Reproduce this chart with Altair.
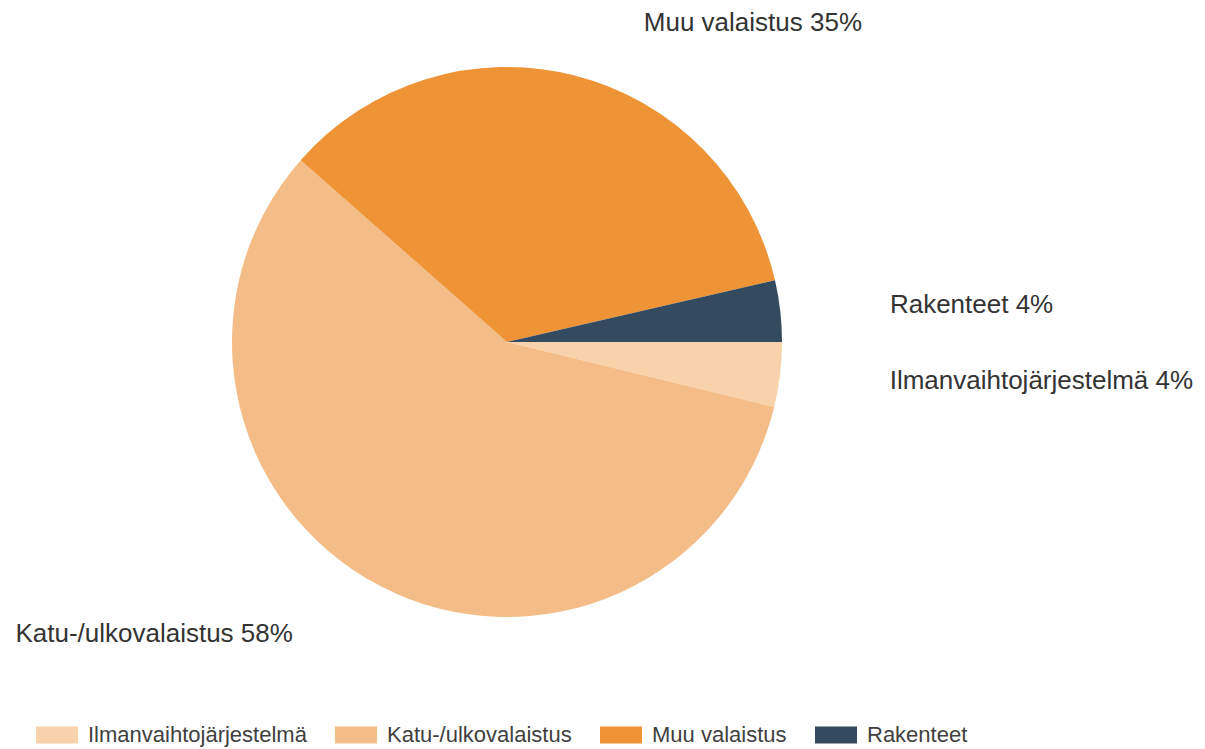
import math
import altair as alt
import pandas as pd

categories = ["Ilmanvaihtojärjestelmä", "Katu-/ulkovalaistus", "Muu valaistus", "Rakenteet"]
shares = [3.8, 57.7, 34.9, 3.6]
labels = ["Ilmanvaihtojärjestelmä 4%", "Katu-/ulkovalaistus 58%", "Muu valaistus 35%", "Rakenteet 4%"]
colors = ["#F8D2AA", "#F4BD87", "#EE9336", "#344B5F"]

df = pd.DataFrame({"cat": categories, "value": shares, "label": labels, "order": list(range(len(categories)))})

CX, CY = 499, 334
FONT = "Liberation Sans"
theta_scale = alt.Scale(domain=[0, 100], range=[math.pi / 2, math.pi / 2 + 2 * math.pi])

base = alt.Chart(df)

pie = base.mark_arc(outerRadius=275, strokeWidth=0).encode(
    theta=alt.Theta("value:Q", stack=True, scale=theta_scale),
    order=alt.Order("order:Q"),
    color=alt.Color(
        "cat:N",
        scale=alt.Scale(domain=categories, range=colors),
        legend=alt.Legend(
            title=None,
            orient="none",
            direction="horizontal",
            legendX=28,
            legendY=706,
            symbolType="M-1,-0.4H1V0.4H-1Z",
            symbolSize=1764,
            symbolStrokeWidth=0,
            symbolOpacity=1,
            labelFont=FONT,
            labelFontSize=22,
            labelColor="#404040",
            labelOffset=10,
            labelLimit=0,
            columnPadding=28,
        ),
    ),
    x=alt.value(CX),
    y=alt.value(CY),
)

lab = base.transform_window(
    cum="sum(value)", sort=[alt.SortField("order")], frame=[None, 0]
).transform_calculate(
    mid="datum.cum - datum.value / 2",
    side="sin(PI / 2 + datum.mid / 100 * 2 * PI) > 0 ? 'R' : 'L'",
)

text_style = dict(radius=329, baseline="middle", fontSize=26, font=FONT, color="#333333")

right = lab.transform_filter("datum.side == 'R'").mark_text(align="left", dx=56, **text_style).encode(
    theta=alt.Theta("mid:Q", scale=theta_scale),
    text="label:N",
    x=alt.value(CX),
    y=alt.value(CY),
)
left = lab.transform_filter("datum.side == 'L'").mark_text(align="right", dx=-62, **text_style).encode(
    theta=alt.Theta("mid:Q", scale=theta_scale),
    text="label:N",
    x=alt.value(CX),
    y=alt.value(CY),
)

chart = alt.layer(pie, right, left).properties(
    width=1189, height=741, padding=0, autosize=alt.AutoSizeParams(type="none")
).configure_view(stroke=None)

chart.save("out.html", embed_options={"renderer": "svg", "actions": False})
